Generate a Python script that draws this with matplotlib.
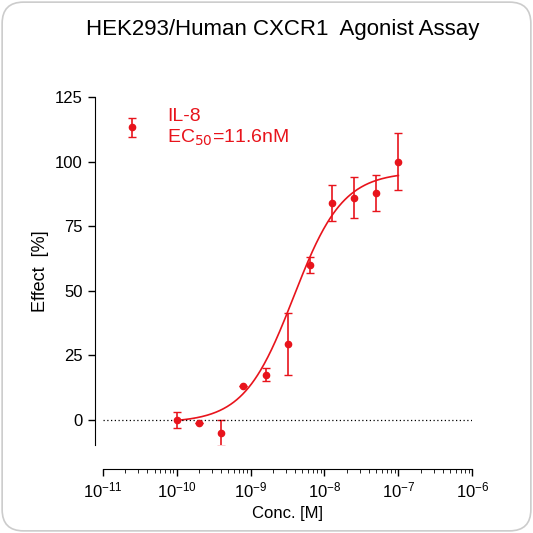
import numpy as np
import matplotlib.pyplot as plt
from matplotlib.patches import FancyBboxPatch
from matplotlib.ticker import LogLocator, NullFormatter

conc = [1e-10, 2e-10, 4e-10, 8e-10, 1.6e-9, 3.2e-9, 6.4e-9, 1.25e-8, 2.5e-8, 5e-8, 1e-7]
effect = [0, -1, -5, 13, 17.5, 29.5, 60, 84, 86, 88, 100]
err = [3, 0, 5, 0, 2.5, 12, 3, 7, 8, 7, 11]

bottom, top, log_ec50, hill = -1.0, 96.0, -8.42, 1.3

plt.rcParams["font.family"] = ["Liberation Sans", "DejaVu Sans"]
red = "#e8141c"
fig = plt.figure(figsize=(5.33, 5.33), dpi=100)
fig.patches.append(FancyBboxPatch((0.004, 0.004), 0.992, 0.992, boxstyle="round,pad=0,rounding_size=0.04",
                                  transform=fig.transFigure, facecolor="white", edgecolor="#cccccc",
                                  lw=1.2, zorder=-10))
ax = fig.add_axes([0.193, 0.165, 0.693, 0.653])
ax.set_facecolor("none")

xs = np.logspace(-10, -7, 300)
ax.plot(xs, bottom + (top - bottom) / (1 + 10 ** ((log_ec50 - np.log10(xs)) * hill)), color=red, lw=1.2)
ax.errorbar(conc, effect, yerr=err, fmt="o", color=red, ms=4.5, capsize=3, elinewidth=1.2, label="IL-8\nEC$_{50}$=11.6nM")
ax.axhline(0, color="black", lw=0.9, ls=(0, (1, 2)))

ax.set_xscale("log")
ax.set_xlim(1e-11, 1e-6)
ax.set_ylim(-9.7, 125)
ax.set_yticks([0, 25, 50, 75, 100, 125])
ax.xaxis.set_major_locator(LogLocator(base=10, numticks=10))
ax.xaxis.set_minor_locator(LogLocator(base=10, subs=np.arange(2, 10), numticks=100))
ax.xaxis.set_minor_formatter(NullFormatter())
for s in ["top", "right"]:
    ax.spines[s].set_visible(False)
ax.spines["left"].set_position(("outward", 6))
ax.spines["bottom"].set_position(("outward", 17))
ax.tick_params(labelsize=12, width=1, length=5)
ax.tick_params(which="minor", length=3)
ax.set_xlabel("Conc. [M]", fontsize=12)
ax.set_ylabel("Effect  [%]", fontsize=13)
leg = ax.legend(loc="upper left", frameon=False, fontsize=14, bbox_to_anchor=(-0.02, 1.02), handlelength=2)
for t in leg.get_texts():
    t.set_color(red)
fig.text(0.53, 0.935, "HEK293/Human CXCR1  Agonist Assay", ha="center", fontsize=16)
fig.savefig("out.png", dpi=100)
